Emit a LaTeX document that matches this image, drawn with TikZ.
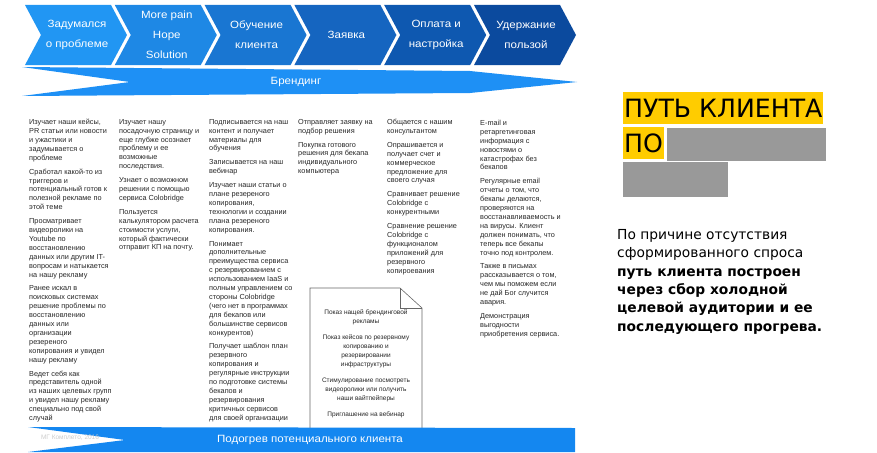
\documentclass[tikz,border=0pt]{standalone}
\usepackage{fontspec}
\setmainfont{Liberation Sans}
\newfontfamily\wideFont[FakeStretch=1.1]{Liberation Sans}
\newfontfamily\sideFont{DejaVu Sans}
\usetikzlibrary{positioning}
\definecolor{stageA}{RGB}{33,150,243}
\definecolor{stageB}{RGB}{30,136,229}
\definecolor{stageC}{RGB}{25,118,210}
\definecolor{stageD}{RGB}{21,101,192}
\definecolor{stageE}{RGB}{14,88,176}
\definecolor{stageF}{RGB}{11,74,158}
\definecolor{brandblue}{RGB}{30,144,245}
\definecolor{warmblue}{RGB}{20,135,240}
\definecolor{titleyellow}{RGB}{255,204,0}
\definecolor{redactgray}{RGB}{153,153,153}
\tikzset{
    stagelabel/.style={align=center, text=white, inner sep=0pt, font=\wideFont\fontsize{10.5}{20}\selectfont},
    bannerlabel/.style={text=white, inner sep=0pt, font=\wideFont\fontsize{10.5}{12}\selectfont},
    columntext/.style={anchor=north west, align=left, inner sep=0pt, text=black!85, font=\fontsize{7.3}{8.9}\selectfont},
    docnote/.style={align=center, inner sep=0pt, text=black!85, font=\fontsize{6.5}{9}\selectfont},
    docline/.style={draw=black!60, line width=0.6pt, fill=white},
    titlebar/.style={fill=titleyellow, anchor=north west, inner xsep=1pt, inner ysep=6.5pt, font=\sideFont\fontsize{25.2}{30}\selectfont},
    redactbox/.style={fill=redactgray, anchor=north west, inner sep=0pt},
    sidenote/.style={anchor=north west, align=left, inner sep=0pt, font=\sideFont\fontsize{13.8}{18.4}\selectfont}
}
\begin{document}
\begin{tikzpicture}[x=1pt, y=-1pt]
    \useasboundingbox (0,0) rectangle (877,452);
    % stages
    \foreach \i/\lbl/\col in {0/{Задумался\\о проблеме}/stageA, 1/{More pain\\Hope\\Solution}/stageB,
        2/{Обучение\\клиента}/stageC, 3/{Заявка}/stageD, 4/{Оплата и\\настройка}/stageE, 5/{Удержание\\пользой}/stageF}{
        \fill[\col] (25+89.8*\i,5) -- ++(86,0) -- ++(16,30) -- ++(-16,30) -- ++(-86,0) -- ++(16,-30) -- cycle;
        \node[stagelabel] (stage\i) at (25+89.8*\i+52,35) {\lbl};
    }
    % branding
    \fill[brandblue] (22,67) -- (470,71) -- (577,82) -- (470,93) -- (22,96) -- (130,82) -- cycle;
    \node[bannerlabel] (branding) at (296,82) {Брендинг};

    \node[columntext] (col1) at (29,119) {Изучает наши кейсы,\\PR статьи или новости\\и ужастики и\\задумывается о\\проблеме\\[5pt]
        Сработал какой-то из\\триггеров и\\потенциальный готов к\\полезной рекламе по\\этой теме\\[5pt]
        Просматривает\\видеоролики на\\Youtube по\\восстановлению\\данных или другим IT-\\вопросам и натыкается\\на нашу рекламу\\[5pt]
        Ранее искал в\\поисковых системах\\решение проблемы по\\восстановлению\\данных или\\организации\\резереного\\копирования и увидел\\нашу рекламу\\[5pt]
        Ведет себя как\\представитель одной\\из наших целевых групп\\и увидел нашу рекламу\\специально под свой\\случай};
    \node[columntext] (col2) at (119,119) {Изучает нашу\\посадочную страницу и\\еще глубже осознает\\проблему и ее\\возможные\\последствия.\\[5pt]
        Узнает о возможном\\решении с помощью\\сервиса Colobridge\\[5pt]
        Пользуется\\калькулятором расчета\\стоимости услуги,\\который фактически\\отправит КП на почту.};
    \node[columntext] (col3) at (209,119) {Подписывается на наш\\контент и получает\\материалы для\\обучения\\[5pt]
        Записывается на наш\\вебинар\\[5pt]
        Изучает наши статьи о\\плане резереного\\копирования,\\технологии и создании\\плана резереного\\копирования.\\[5pt]
        Понимает\\дополнительные\\преимущества сервиса\\с резервированием с\\использованием IaaS и\\полным управлением со\\стороны Colobridge\\(чего нет в программах\\для бекапов или\\большинстве сервисов\\конкурентов)\\[5pt]
        Получает шаблон план\\резервного\\копирования и\\регулярные инструкции\\по подготовке системы\\бекапов и\\резервирования\\критичных сервисов\\для своей организации};
    \node[columntext] (col4) at (298,119) {Отправляет заявку на\\подбор решения\\[5pt]
        Покупка готового\\решения для бекапа\\индивидуального\\компьютера};
    \node[columntext] (col5) at (387,119) {Общается с нашим\\консультантом\\[5pt]
        Опрашивается и\\получает счет и\\коммерческое\\предложение для\\своего случая\\[5pt]
        Сравнивает решение\\Colobridge с\\конкурентными\\[5pt]
        Сравнение решение\\Colobridge с\\функционалом\\приложений для\\резервного\\копироевания};
    \node[columntext] (col6) at (480,120) {E-mail и\\ретаргетинговая\\информация с\\новостями о\\катастрофах без\\бекапов\\[5pt]
        Регулярные email\\отчеты о том, что\\бекапы делаются,\\проверяются на\\восстанавливаемость и\\на вирусы. Клиент\\должен понимать, что\\теперь все бекапы\\точно под контролем.\\[5pt]
        Также в письмах\\рассказывается о том,\\чем мы поможем если\\не дай Бог случится\\авария.\\[5pt]
        Демонстрация\\выгодности\\приобретения сервиса.};

    % document
    \draw[docline] (310,288) -- (400,288) -- (422,308) -- (422,430) -- (310,430) -- cycle;
    \draw[docline, fill=none] (400,288) -- (400,308) -- (422,308);
    \node[docnote, anchor=north] (docnotes) at (366,309) {Показ нащей брендинговой\\рекламы\\[7pt]
        Показ кейсов по резервному\\копированию и\\резервировании\\инфраструктуры\\[7pt]
        Стимулирование посмотреть\\видеоролики или получить\\наши вайтпейперы\\[7pt]
        Приглашение на вебинар};

    % warm-up
    \fill[warmblue] (28,427) -- (575,428) -- (575,452) -- (28,452) -- (125,440) -- cycle;
    \node[bannerlabel] (warmup) at (310,440) {Подогрев потенциального клиента};
    \node[text=black!20, inner sep=0pt, font=\fontsize{6.5}{8}\selectfont] (credit) at (70,438) {МГ Комплето, 2016};

    % right side
    \node[titlebar] (title1) at (623,92) {ПУТЬ КЛИЕНТА};
    \node[titlebar, below=3pt of title1.south west, anchor=north west] (title2) {ПО};
    \node[redactbox, minimum width=159pt, minimum height=33pt] (redact1) at (667,128) {};
    \node[redactbox, minimum width=105pt, minimum height=35pt] (redact2) at (623,162) {};
    \node[sidenote] (note) at (617,229) {По причине отсутствия\\сформированного спроса\\\textbf{путь клиента построен}\\\textbf{через сбор холодной}\\\textbf{целевой аудитории и ее}\\\textbf{последующего прогрева.}};
\end{tikzpicture}
\end{document}
